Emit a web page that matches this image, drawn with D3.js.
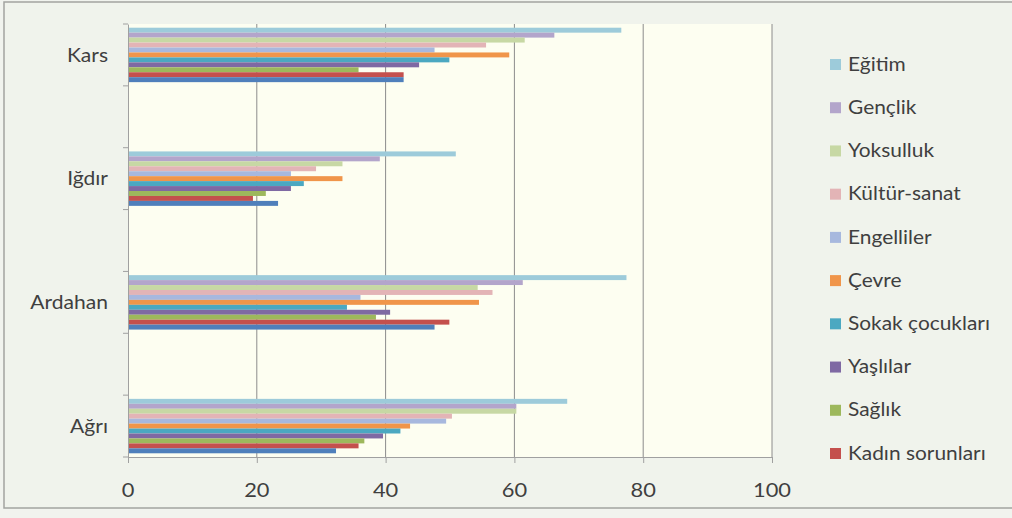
<!DOCTYPE html>
<html><head><meta charset="utf-8">
<script src="https://cdn.jsdelivr.net/npm/d3@7"></script>
<style>body{margin:0;background:#fff;}svg{display:block;}</style>
</head><body>
<svg id="c" width="1012" height="518"></svg>
<script>
// Categories in display order (top to bottom)
const categories = ["Kars", "Iğdır", "Ardahan", "Ağrı"];
// Series in bar order (top to bottom within a group)
const series = ["Eğitim","Gençlik","Yoksulluk","Kültür-sanat","Engelliler","Çevre","Sokak çocukları","Yaşlılar","Sağlık","Kadın sorunları","Diğer"];
const legendSeries = ["Eğitim","Gençlik","Yoksulluk","Kültür-sanat","Engelliler","Çevre","Sokak çocukları","Yaşlılar","Sağlık","Kadın sorunları"];
const colors = ["#9DCBDA","#B3A5CB","#C7D8A4","#E3B4B6","#A7B8DE","#F0954A","#4BA8C1","#7F69A3","#9DB85C","#C4504D","#4F7FBB"];
const valuesKars    = [76.6, 66.2, 61.6, 55.6, 47.6, 59.2, 49.9, 45.2, 35.8, 42.8, 42.8];
const valuesIgdir   = [50.9, 39.1, 33.3, 29.2, 25.3, 33.3, 27.3, 25.3, 21.4, 19.4, 23.3];
const valuesArdahan = [77.4, 61.3, 54.3, 56.6, 36.1, 54.5, 34.0, 40.7, 38.5, 49.9, 47.6];
const valuesAgri    = [68.2, 60.3, 60.3, 50.3, 49.4, 43.8, 42.3, 39.6, 36.7, 35.8, 32.3];
const xTicks = [0, 20, 40, 60, 80, 100];

const values = [valuesKars, valuesIgdir, valuesArdahan, valuesAgri];

const svg = d3.select("#c");
const FONT = "Lato, 'Open Sans', sans-serif";
const L = 128, R = 772, T = 24, B = 457;

// background and frame
svg.append("rect").attr("x",0).attr("y",0).attr("width",1012).attr("height",518).attr("fill","#F1F3EE");
svg.append("rect").attr("x",4).attr("y",2).attr("width",1020).attr("height",506)
  .attr("fill","#F0F3EC").attr("stroke","#A2A4A0").attr("stroke-width",1.5);
svg.append("rect").attr("x",L).attr("y",T).attr("width",R-L).attr("height",B-T).attr("fill","#FDFEF1");

// slots: categories interleaved with blank slots
const slots = [];
categories.forEach((c,i)=>{ slots.push(c); if(i<categories.length-1) slots.push("__gap"+i); });
const y = d3.scaleBand().domain(slots).range([T,B]).paddingInner(0).paddingOuter(0);
const yi = d3.scaleBand().domain(series).range([0,y.bandwidth()]).paddingInner(0).paddingOuter(0.75);
const x = d3.scaleLinear().domain([0,100]).range([L,R]);

// gridlines
svg.append("g").selectAll("line").data(xTicks.slice(1)).join("line")
  .attr("x1",d=>x(d)).attr("x2",d=>x(d)).attr("y1",T).attr("y2",B)
  .attr("stroke","#8C8C8C").attr("stroke-width",1);

// bars
categories.forEach((c,ci)=>{
  svg.append("g").selectAll("rect").data(series).join("rect")
    .attr("x",x(0)).attr("y",s=>y(c)+yi(s))
    .attr("width",(s,si)=>x(values[ci][si])-x(0))
    .attr("height",yi.bandwidth())
    .attr("fill",(s,si)=>colors[si]);
});

// helper: stretched text
function stext(g, data, px, py, txt, anchor, size, sx){
  const sel = g.selectAll("g.t").data(data).join("g").attr("class","t")
    .attr("transform",d=>`translate(${px(d)},${py(d)}) scale(${sx},1)`);
  sel.append("text").attr("dy","0.35em").attr("text-anchor",anchor)
    .attr("font-family",FONT).attr("font-size",size).attr("fill","#3F3F3F").text(txt);
}

// x axis
const xAxis = d3.axisBottom(x).tickValues(xTicks).tickSize(6).tickFormat("");
const gx = svg.append("g").attr("transform",`translate(0,${B})`).call(xAxis);
gx.select(".domain").attr("stroke","#A0A0A0");
gx.selectAll(".tick line").attr("stroke","#A0A0A0");
stext(svg.append("g"), xTicks, d=>x(d), d=>490, d=>d, "middle", 19, 1.15);

// y axis
const yAxis = d3.axisLeft(y).tickValues([]).tickSize(0);
const gy = svg.append("g").attr("transform",`translate(${L},0)`).call(yAxis);
gy.select(".domain").attr("stroke","#A0A0A0");
const bounds = slots.map(s=>y(s)).concat([B]);
svg.append("g").selectAll("line").data(bounds).join("line")
  .attr("x1",L-5).attr("x2",L).attr("y1",d=>d).attr("y2",d=>d).attr("stroke","#A0A0A0");
stext(svg.append("g"), categories, c=>L-20, c=>y(c)+y.bandwidth()/2, d=>d, "end", 19.5, 1.08);

// legend
const lg = svg.append("g");
const ly = d3.scalePoint().domain(legendSeries).range([64,453]);
lg.selectAll("rect").data(legendSeries).join("rect")
  .attr("x",830).attr("y",d=>ly(d)-5).attr("width",11).attr("height",11)
  .attr("fill",d=>colors[series.indexOf(d)]);
stext(lg, legendSeries, d=>848, d=>ly(d), d=>d, "start", 19, 1.1);
</script>
</body></html>
